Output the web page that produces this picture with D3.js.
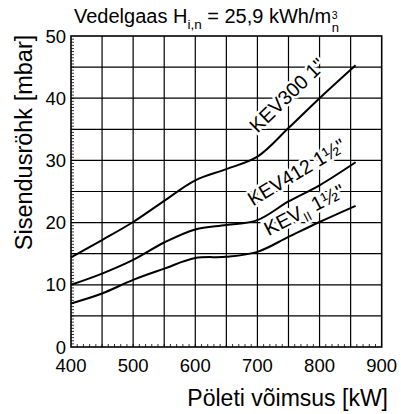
<!DOCTYPE html>
<html>
  <head>
    <script src="https://d3js.org/d3.v7.min.js"></script>
  </head>
  <body>
    <svg id="viz" width="401" height="414"></svg>
  </body>
  <script>
    // values (kW -> mbar)
    const power = [400, 450, 500, 550, 600, 650, 700, 750, 800, 858];
    const kev300 = [14.4, 17.2, 20.1, 23.5, 26.8, 28.6, 30.6, 35.2, 40.0, 45.3];
    const kev412 = [10.0, 11.8, 14.0, 16.8, 18.9, 19.6, 20.4, 23.4, 26.0, 29.7];
    const kevII = [7.0, 8.6, 10.8, 12.6, 14.3, 14.5, 15.3, 17.7, 20.1, 22.7];
    const xTicks = [400, 500, 600, 700, 800, 900];
    const yTicks = [0, 10, 20, 30, 40, 50];

    const font = "'Liberation Sans', Arial, sans-serif";

    function draw() {
      const svg = d3.select("svg#viz");
      svg.append("rect").attr("width", 401).attr("height", 414).attr("fill", "#fff");

      const x = d3.scaleLinear().domain([400, 900]).range([71, 381.7]);
      const y = d3.scaleLinear().domain([0, 50]).range([347, 36]);

      // grid
      const grid = svg.append("g").attr("stroke", "#000").attr("stroke-width", 1.2);
      grid.selectAll("line.gx")
        .data(d3.range(450, 900, 50))
        .join("line")
        .attr("class", "gx")
        .attr("x1", (d) => x(d)).attr("x2", (d) => x(d))
        .attr("y1", y(0)).attr("y2", y(50));
      grid.selectAll("line.gy")
        .data(d3.range(5, 50, 5))
        .join("line")
        .attr("class", "gy")
        .attr("x1", x(400)).attr("x2", x(900))
        .attr("y1", (d) => y(d)).attr("y2", (d) => y(d));

      // minor ticks
      const minor = svg.append("g").attr("stroke", "#000").attr("stroke-width", 0.8);
      minor.selectAll("line.my")
        .data(d3.range(0.5, 50, 0.5))
        .join("line")
        .attr("class", "my")
        .attr("x1", x(400)).attr("x2", x(400) + 3)
        .attr("y1", (d) => y(d)).attr("y2", (d) => y(d));
      minor.selectAll("line.mx")
        .data(d3.range(410, 900, 10))
        .join("line")
        .attr("class", "mx")
        .attr("x1", (d) => x(d)).attr("x2", (d) => x(d))
        .attr("y1", y(0)).attr("y2", y(0) - 3);

      // frame
      svg.append("rect")
        .attr("x", x(400)).attr("y", y(50))
        .attr("width", x(900) - x(400)).attr("height", y(0) - y(50))
        .attr("fill", "none").attr("stroke", "#000").attr("stroke-width", 1.6);

      // tick labels
      svg.selectAll("text.xt")
        .data(xTicks)
        .join("text")
        .attr("class", "xt")
        .attr("x", (d) => x(d)).attr("y", 371.5)
        .attr("text-anchor", "middle")
        .style("font", `18.5px ${font}`)
        .text((d) => d);
      svg.selectAll("text.yt")
        .data(yTicks)
        .join("text")
        .attr("class", "yt")
        .attr("x", 66).attr("y", (d) => y(d) + 6.5)
        .attr("text-anchor", "end")
        .style("font", `18.5px ${font}`)
        .text((d) => d);

      // axis titles
      svg.append("text")
        .attr("x", 388).attr("y", 405.5)
        .attr("text-anchor", "end")
        .style("font", `23px ${font}`)
        .text("Pöleti võimsus [kW]");
      svg.append("text")
        .attr("transform", "translate(31.5,142.5) rotate(-90)")
        .attr("text-anchor", "middle")
        .style("font", `23.5px ${font}`)
        .text("Sisendusröhk [mbar]");

      // title
      const title = svg.append("text")
        .attr("x", 74).attr("y", 23.3)
        .style("font", `20px ${font}`);
      title.append("tspan").text("Vedelgaas ");
      title.append("tspan").text("H");
      title.append("tspan").attr("dy", 6).style("font-size", "13.5px").text("i,n");
      title.append("tspan").attr("dy", -6).text(" = 25,9 kWh/m");
      const tEnd = 74 + title.node().getComputedTextLength();
      svg.append("text").attr("x", tEnd + 0.5).attr("y", 19)
        .style("font", `10.5px ${font}`).text("3");
      svg.append("text").attr("x", tEnd + 0.5).attr("y", 32)
        .style("font", `13px ${font}`).text("n");

      // curve labels with white halo
      function label(kw, mb, angle, len) {
        return svg.append("text")
          .attr("transform", `translate(${x(kw)},${y(mb)}) rotate(${angle})`)
          .style("font", `20px ${font}`)
          .attr("textLength", len)
          .attr("lengthAdjust", "spacingAndGlyphs")
          .attr("stroke", "#fff").attr("stroke-width", 5)
          .attr("paint-order", "stroke")
          .attr("fill", "#000");
      }
      label(700, 34.3, -44, 96).text("KEV300 1\"");
      label(693, 22.6, -31, 110).text("KEV412 1\u00BD\"");
      const l3 = label(718, 17.8, -27.5, 88);
      l3.append("tspan").text("KEV");
      l3.append("tspan").attr("dy", 5).style("font-size", "13px").text("II");
      l3.append("tspan").attr("dy", -5).text(" 1\u00BD\"");

      // curves
      const series = [kev300, kev412, kevII];
      const line = d3.line()
        .x((d, i) => x(power[i]))
        .y((d) => y(d))
        .curve(d3.curveCatmullRom.alpha(0.5));
      svg.selectAll("path.curve")
        .data(series)
        .join("path")
        .attr("class", "curve")
        .attr("d", line)
        .attr("fill", "none")
        .attr("stroke", "#000")
        .attr("stroke-width", 2);
    }

    draw();
  </script>
  <style>
    body {
      margin: 0px;
    }
  </style>
</html>
